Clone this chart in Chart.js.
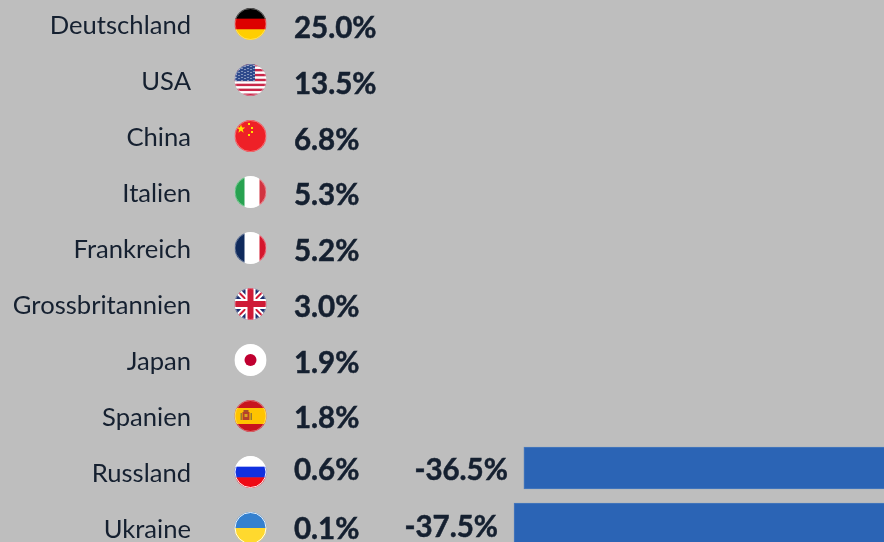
<!DOCTYPE html>
<html><head><meta charset="utf-8">
<style>html,body{margin:0;padding:0;background:#bebebe;overflow:hidden;width:884px;height:542px}
#w{position:absolute;left:0;top:-8px;width:884px;height:560px}</style>
<script src="https://cdn.jsdelivr.net/npm/chart.js@4"></script></head>
<body><div id="w"><canvas id="c"></canvas></div>
<script>
const countries=["Deutschland","USA","China","Italien","Frankreich","Grossbritannien","Japan","Spanien","Russland","Ukraine"];
const flags=["de","us","cn","it","fr","gb","jp","es","ru","ua"];
const shareLabels=["25.0%","13.5%","6.8%","5.3%","5.2%","3.0%","1.9%","1.8%","0.6%","0.1%"];
const changeValues=[null,null,null,null,null,null,null,null,-36.5,-37.5];
const changeLabels=[null,null,null,null,null,null,null,null,"-36.5%","-37.5%"];

const ink="#152030";
const shareNudge=[8,8,8,7,7,7,7,6,2,5];
const changeNudge=[0,0,0,0,0,0,0,0,2,3];
function bands(ctx,x,y,r,cols){const h=2*r/cols.length;cols.forEach((c,i)=>{ctx.fillStyle=c;ctx.fillRect(x-r,y-r+i*h,2*r,h+.5);});}
function vbands(ctx,x,y,r,cols){ctx.fillStyle=cols[1];ctx.fillRect(x-r,y-r,2*r,2*r);ctx.fillStyle=cols[0];ctx.fillRect(x-r,y-r,10,2*r);ctx.fillStyle=cols[2];ctx.fillRect(x+r-7,y-r,7,2*r);}
function star(ctx,x,y,r){ctx.beginPath();for(let i=0;i<10;i++){const a=-Math.PI/2+i*Math.PI/5,q=i%2?r*.4:r;ctx.lineTo(x+q*Math.cos(a),y+q*Math.sin(a));}ctx.closePath();ctx.fill();}
const painters={
de(c,x,y,r){bands(c,x,y,r,["#000000","#dd0000","#ffce00"]);},
us(c,x,y,r){for(let i=0;i<13;i++){c.fillStyle=i%2?"#ffffff":"#c8284a";c.fillRect(x-r,y-r+i*2*r/13,2*r,2*r/13+.5);}
 c.fillStyle="#2f4a8c";c.fillRect(x-r,y-r,r*1.28,r*1.07);c.fillStyle="#dfe4ef";
 for(let a=0;a<6;a++)for(let b=0;b<7;b++){c.fillRect(x-r+1+b*3,y-r+1+a*3+(b%2),1,1);}},
cn(c,x,y,r){c.fillStyle="#ee2027";c.fillRect(x-r,y-r,2*r,2*r);c.fillStyle="#ffe000";star(c,x-9.5,y-7,4.5);
 [[-1.5,-12],[1.5,-8],[1.5,-4],[-1.5,-1]].forEach(p=>c.fillRect(x+p[0]-1,y+p[1]-1,2,2));},
it(c,x,y,r){vbands(c,x,y,r,["#27a250","#ffffff","#d23340"]);},
fr(c,x,y,r){vbands(c,x,y,r,["#0f2a5c","#ffffff","#d5162c"]);},
gb(c,x,y,r){c.fillStyle="#1d2f6f";c.fillRect(x-r,y-r,2*r,2*r);
 c.lineCap="butt";c.strokeStyle="#ffffff";c.lineWidth=6;c.beginPath();c.moveTo(x-r,y-r);c.lineTo(x+r,y+r);c.moveTo(x+r,y-r);c.lineTo(x-r,y+r);c.stroke();
 c.strokeStyle="#cf1b36";c.lineWidth=2;c.beginPath();c.moveTo(x-r,y-r);c.lineTo(x+r,y+r);c.moveTo(x+r,y-r);c.lineTo(x-r,y+r);c.stroke();
 c.fillStyle="#ffffff";c.fillRect(x-r,y-5,2*r,10);c.fillRect(x-5,y-r,10,2*r);
 c.fillStyle="#cf1b36";c.fillRect(x-r,y-3,2*r,6);c.fillRect(x-3,y-r,6,2*r);},
jp(c,x,y,r){c.fillStyle="#ffffff";c.fillRect(x-r,y-r,2*r,2*r);c.fillStyle="#c00030";c.beginPath();c.arc(x,y,6,0,7);c.fill();},
es(c,x,y,r){c.fillStyle="#c8141e";c.fillRect(x-r,y-r,2*r,2*r);c.fillStyle="#ffc400";c.fillRect(x-r,y-8,2*r,16);
 c.fillStyle="#b5402a";c.fillRect(x-8,y-4,7,8);c.fillStyle="#d9a520";c.fillRect(x-6,y-2,3,3);c.fillStyle="#9a7a30";c.fillRect(x-10,y-3,1.5,7);c.fillRect(x,y-3,1.5,7);c.fillStyle="#a8502a";c.fillRect(x-7,y-6,5,2);},
ru(c,x,y,r){bands(c,x,y,r,["#ffffff","#1030e0","#ee0a14"]);},
ua(c,x,y,r){bands(c,x,y,r,["#3480cf","#ffd92e"]);}
};
const rowPainter={id:"rowPainter",afterDatasetsDraw(chart){
 const c=chart.ctx,ys=chart.scales.y,meta=chart.getDatasetMeta(0);
 c.save();
 c.textBaseline="middle";
 countries.forEach((n,i)=>{
  const y=ys.getPixelForTick(i);
  c.save();c.beginPath();c.arc(250.5,y+4,16,0,7);c.clip();painters[flags[i]](c,250.5,y+4,16);c.restore();
  c.strokeStyle=i>=8?"rgba(255,255,255,.9)":"rgba(255,255,255,.35)";c.lineWidth=1;c.beginPath();c.arc(250.5,y+4,15.5,0,7);c.stroke();
  c.fillStyle=ink;c.strokeStyle=ink;c.lineWidth=.5;c.font="700 29.5px Lato";c.textAlign="left";
  c.fillText(shareLabels[i],294,y+shareNudge[i]);c.strokeText(shareLabels[i],294,y+shareNudge[i]);
  if(changeLabels[i]){const b=meta.data[i];c.textAlign="right";c.fillText(changeLabels[i],b.x-16,y+changeNudge[i]);c.strokeText(changeLabels[i],b.x-16,y+changeNudge[i]);}
 });
 c.restore();
}};
new Chart(document.getElementById("c"),{type:"bar",plugins:[rowPainter],
 data:{labels:countries,datasets:[{data:changeValues,backgroundColor:"#2b64b5",borderColor:"#4a7abd",borderWidth:1,barThickness:42}]},
 options:{indexAxis:"y",responsive:true,maintainAspectRatio:false,animation:false,
  layout:{padding:0,autoPadding:false},
  plugins:{legend:{display:false},tooltip:{enabled:false}},
  scales:{
   x:{min:-70.14,max:0,display:false},
   y:{afterFit(s){s.width=192;s.paddingTop=0;s.paddingBottom=0;},border:{display:false},grid:{display:false,drawTicks:false},
      ticks:{color:ink,font:{family:"Lato",size:25.6},padding:1,labelOffset:6,autoSkip:false}}
  }}});
</script></body></html>
